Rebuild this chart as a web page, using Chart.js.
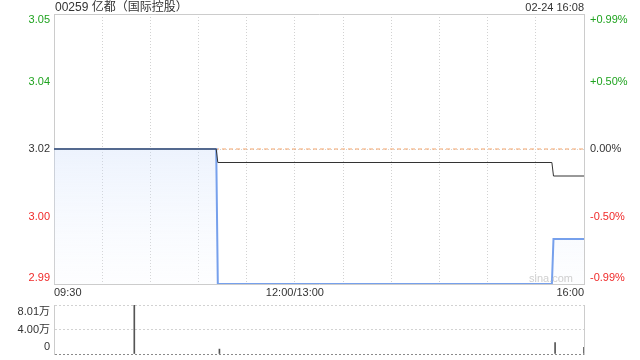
<!DOCTYPE html>
<html>
<head>
<meta charset="utf-8">
<script src="https://cdn.jsdelivr.net/npm/chart.js@4.4.0/dist/chart.umd.min.js"></script>
<style>
  html, body { margin: 0; padding: 0; background: #fff; }
  #wadah { position: relative; width: 640px; height: 360px; }
  #chartHarga { position: absolute; left: 0; top: 0; }
  #chartVolume { position: absolute; left: 0; top: 300px; }
</style>
</head>
<body>
<div id="wadah">
  <canvas id="chartHarga" width="640" height="300"></canvas>
  <canvas id="chartVolume" width="640" height="60"></canvas>
</div>
<script>
// data saham
const judulSaham = '00259 亿都（国际控股）';
const waktuUpdate = '02-24 16:08';
const tutupKemarin = 3.02;
const totalMenit = 330; // 09:30-12:00 + 13:00-16:00

// harga per menit (cuma titik waktu harganya berubah)
const menitHarga = [0, 101, 102, 310, 311, 330];
const nilaiHarga = [3.02, 3.02, 2.99, 2.99, 3.00, 3.00];
// harga rata-rata
const menitRata = [0, 101, 102, 310, 311, 330];
const nilaiRata = [3.02, 3.02, 3.017, 3.017, 3.014, 3.014];
// volume
const menitVolume = [50, 103, 312, 330];
const nilaiVolume = [80100, 8000, 18800, 11000];

// label sumbu
const labelHargaKiri = ['3.05', '3.04', '3.02', '3.00', '2.99'];
const labelPersenKanan = ['+0.99%', '+0.50%', '0.00%', '-0.50%', '-0.99%'];
const labelWaktu = ['09:30', '12:00/13:00', '16:00'];
const menitLabelWaktu = [0, 150, 330];
const labelVolume = ['8.01万', '4.00万', '0'];

document.addEventListener('DOMContentLoaded', () => {
  if (typeof Chart === 'undefined') return;

  const fontDasar = '"Liberation Sans", Arial, "Noto Sans CJK SC", sans-serif';
  const warnaNaik = '#1fa31f';
  const warnaTurun = '#f02a2a';
  const warnaNetral = '#333333';
  const warnaBingkai = '#cccccc';
  const warnaGrid = '#d2d2d2';

  // range harga simetris dari harga tutup kemarin
  const hargaMin = Math.min(...nilaiHarga);
  const selisih = tutupKemarin - hargaMin;
  const hargaMax = tutupKemarin + selisih;
  // urut dari atas ke bawah
  const tickHarga = [hargaMax, tutupKemarin + selisih / 2, tutupKemarin, tutupKemarin - selisih / 2, hargaMin];

  function warnaLabel(i) {
    if (i < 2) return warnaNaik;
    if (i === 2) return warnaNetral;
    return warnaTurun;
  }

  const jadiTitik = (xs, ys) => xs.map((x, i) => ({ x: x, y: ys[i] }));

  // plugin buat nulis teks sumbu, judul, watermark
  const pluginTeksHarga = {
    id: 'teksHarga',
    afterDraw(chart) {
      const { ctx, chartArea: area, scales } = chart;
      ctx.save();
      ctx.font = '11px ' + fontDasar;
      ctx.textBaseline = 'middle';
      tickHarga.forEach((v, i) => {
        let y = scales.y.getPixelForValue(v);
        if (i === 0) y += 6;
        if (i === tickHarga.length - 1) y -= 6;
        ctx.fillStyle = warnaLabel(i);
        ctx.textAlign = 'right';
        ctx.fillText(labelHargaKiri[i], area.left - 4, y);
        ctx.textAlign = 'left';
        ctx.fillText(labelPersenKanan[i], area.right + 6, y);
      });

      // label waktu bawah
      ctx.fillStyle = warnaNetral;
      labelWaktu.forEach((teks, i) => {
        const x = scales.x.getPixelForValue(menitLabelWaktu[i]);
        if (i === 0) ctx.textAlign = 'left';
        else if (i === labelWaktu.length - 1) ctx.textAlign = 'right';
        else ctx.textAlign = 'center';
        ctx.fillText(teks, x, area.bottom + 9);
      });

      // judul & jam
      ctx.font = '12px ' + fontDasar;
      ctx.textAlign = 'left';
      ctx.fillText(judulSaham, area.left + 1, 8);
      ctx.font = '11px ' + fontDasar;
      ctx.textAlign = 'right';
      ctx.fillText(waktuUpdate, area.right, 8);

      // watermark
      ctx.fillStyle = '#cfcfcf';
      ctx.font = '11px ' + fontDasar;
      ctx.textAlign = 'right';
      ctx.fillText('sina.com', area.right - 11, area.bottom - 5);
      ctx.restore();
    }
  };

  new Chart(document.getElementById('chartHarga'), {
    type: 'line',
    data: {
      datasets: [
        {
          // garis rata-rata, paling atas
          data: jadiTitik(menitRata, nilaiRata),
          borderColor: '#333333',
          borderWidth: 1,
          pointRadius: 0,
          tension: 0,
          fill: false
        },
        {
          data: jadiTitik(menitHarga, nilaiHarga),
          borderColor: '#76a0ec',
          borderWidth: 2,
          pointRadius: 0,
          tension: 0,
          fill: 'start',
          backgroundColor: (konteks) => {
            const area = konteks.chart.chartArea;
            if (!area) return 'rgba(220,232,252,0.5)';
            const g = konteks.chart.ctx.createLinearGradient(0, area.top, 0, area.bottom);
            g.addColorStop(0, 'rgba(190,210,248,0.5)');
            g.addColorStop(0.5, 'rgba(200,218,250,0.33)');
            g.addColorStop(1, 'rgba(235,242,255,0.1)');
            return g;
          }
        },
        {
          // garis tutup kemarin
          data: [{ x: 0, y: tutupKemarin }, { x: totalMenit, y: tutupKemarin }],
          borderColor: '#f4a46a',
          borderWidth: 1,
          borderDash: [4, 3],
          pointRadius: 0,
          fill: false
        }
      ]
    },
    options: {
      responsive: false,
      animation: false,
      events: [],
      layout: { padding: { left: 54, right: 56, top: 14, bottom: 16 } },
      plugins: { legend: { display: false }, tooltip: { enabled: false } },
      scales: {
        x: {
          type: 'linear',
          min: 0,
          max: totalMenit,
          ticks: { display: false, stepSize: 30 },
          grid: { color: warnaGrid, drawTicks: false },
          border: { color: warnaBingkai, dash: [1, 2] }
        },
        xAtas: {
          type: 'linear',
          position: 'top',
          min: 0,
          max: totalMenit,
          ticks: { display: false },
          grid: { display: false, drawTicks: false },
          border: { color: warnaBingkai }
        },
        y: {
          min: hargaMin,
          max: hargaMax,
          afterBuildTicks: (skala) => {
            skala.ticks = tickHarga.slice().reverse().map(v => ({ value: v }));
          },
          ticks: { display: false },
          grid: {
            drawTicks: false,
            color: (c) => (c.tick && c.tick.value === tutupKemarin ? warnaGrid : 'rgba(0,0,0,0)')
          },
          border: { color: warnaBingkai, dash: [1, 2] }
        },
        yKanan: {
          position: 'right',
          min: hargaMin,
          max: hargaMax,
          ticks: { display: false },
          grid: { display: false, drawTicks: false },
          border: { color: warnaBingkai }
        }
      }
    },
    plugins: [pluginTeksHarga]
  });

  // chart volume
  const volumeMax = Math.max(...nilaiVolume);
  const tickVolume = [volumeMax, volumeMax / 2, 0];

  const pluginTeksVolume = {
    id: 'teksVolume',
    afterDraw(chart) {
      const { ctx, chartArea: area, scales } = chart;
      ctx.save();
      ctx.font = '11px ' + fontDasar;
      ctx.textBaseline = 'middle';
      ctx.textAlign = 'right';
      ctx.fillStyle = warnaNetral;
      tickVolume.forEach((v, i) => {
        let y = scales.y.getPixelForValue(v);
        if (i === 0) y += 7;
        if (i === tickVolume.length - 1) y -= 7;
        ctx.fillText(labelVolume[i], area.left - 4, y);
      });
      ctx.restore();
    }
  };

  new Chart(document.getElementById('chartVolume'), {
    type: 'bar',
    data: {
      datasets: [{
        data: jadiTitik(menitVolume, nilaiVolume),
        backgroundColor: '#555555',
        barThickness: 1
      }]
    },
    options: {
      responsive: false,
      animation: false,
      events: [],
      layout: { padding: { left: 54, right: 56, top: 5, bottom: 6 } },
      plugins: { legend: { display: false }, tooltip: { enabled: false } },
      scales: {
        x: {
          type: 'linear',
          min: 0,
          max: totalMenit,
          offset: false,
          ticks: { display: false },
          grid: { display: false, offset: false, drawTicks: false },
          border: { display: false }
        },
        y: {
          min: 0,
          max: volumeMax,
          afterBuildTicks: (skala) => {
            skala.ticks = tickVolume.slice().reverse().map(v => ({ value: v }));
          },
          ticks: { display: false },
          grid: {
            drawTicks: false,
            color: (c) => (c.tick && c.tick.value === 0 ? '#8a8a8a' : warnaGrid)
          },
          border: { color: warnaBingkai, dash: [2, 2] }
        },
        yKanan: {
          position: 'right',
          min: 0,
          max: volumeMax,
          ticks: { display: false },
          grid: { display: false, drawTicks: false },
          border: { color: warnaBingkai }
        }
      }
    },
    plugins: [pluginTeksVolume]
  });
});
</script>
</body>
</html>
